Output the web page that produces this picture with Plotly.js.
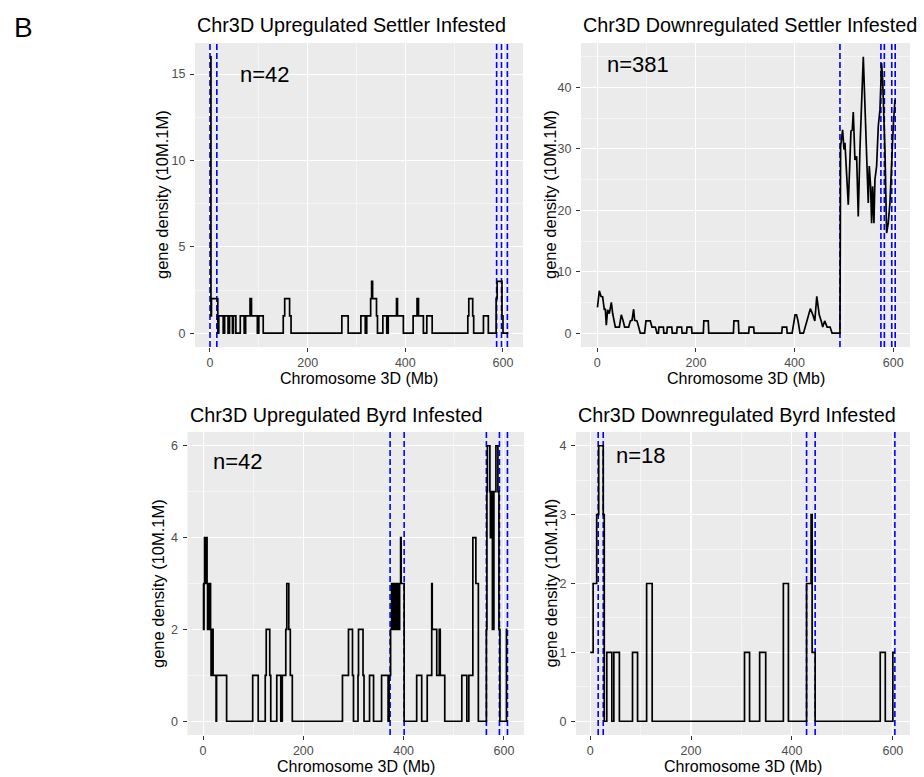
<!DOCTYPE html>
<html>
<head>
<meta charset="utf-8">
<script src="https://cdn.plot.ly/plotly-3.0.1.min.js"></script>
<style>html,body{margin:0;padding:0;background:#fff;}#chart{width:924px;height:777px;}</style>
</head>
<body>
<div id="chart"></div>
<script>
// ---------------- data (Mb position, gene density) ----------------
const titles = [
  "Chr3D Upregulated Settler Infested",
  "Chr3D Downregulated Settler Infested",
  "Chr3D Upregulated Byrd Infested",
  "Chr3D Downregulated Byrd Infested"
];
const counts = ["n=42", "n=381", "n=42", "n=18"];
const countX = [112, 83, 69, 101];
const countY = [15.0, 43.7, 5.65, 3.86];

// Panel 1: Upregulated Settler (step data)
const p1x = [0, 2, 3, 16, 18, 27, 30, 37, 40, 46, 48, 53, 62, 70, 73, 82, 85, 97, 100, 109, 150, 153, 163, 166, 270, 283, 309, 318, 321, 329, 331, 333, 341, 343, 354, 362, 365, 382, 384, 396, 416, 424, 427, 437, 444, 455, 528, 530, 538, 540, 560, 570, 586, 588, 598, 600, 611];
const p1y = [16, 1, 2, 0, 1, 0, 1, 0, 1, 0, 1, 0, 1, 0, 1, 2, 1, 0, 1, 0, 1, 2, 1, 0, 1, 0, 1, 0, 1, 2, 3, 2, 1, 0, 1, 0, 1, 2, 1, 0, 1, 2, 1, 0, 1, 0, 1, 2, 1, 0, 1, 0, 2, 3, 1, 0, 0];
const p1v = [0, 14, 587, 597, 609];

// Panel 2: Downregulated Settler (line data)
const p2x = [0.4, 4.1, 7.5, 10.9, 14.3, 16.3, 18.3, 21, 24.4, 28.5, 31.2, 34.5, 36.6, 44.7, 48.7, 52.1, 55.5, 63.6, 67, 70.4, 73.7, 75.8, 80.5, 83.9, 87.2, 96, 98.7, 107.5, 110.9, 117.7, 121, 124, 125, 134, 135, 141, 142, 151, 152, 161, 162, 171, 172, 181, 182, 191, 192, 215, 216, 225, 226, 276, 277, 286, 287, 307, 308, 317, 318, 374, 375, 384, 385, 395, 401, 404, 407, 411, 418, 425, 432, 437, 441, 445, 450, 454, 457, 461, 466, 472, 476, 492, 493.3, 497.4, 500.1, 502.1, 508.9, 512.2, 514.3, 517, 519, 522.4, 525.8, 529.1, 532.5, 539.3, 546, 549.4, 551.4, 554.1, 556.2, 558.2, 560.9, 562.9, 566.3, 569.7, 573.1, 576.4, 578.5, 583.2, 586.6, 589.9, 593.3, 596.7, 600.1, 603.4];
const p2y = [4.2, 6.9, 6.0, 5.9, 3.8, 4.0, 1.3, 3.8, 3.2, 5.0, 3.2, 2.1, 1.0, 1.0, 3.0, 2.1, 1.0, 1.0, 2.0, 2.1, 3.9, 2.1, 2.0, 1.0, 0, 0, 2, 2, 1, 1, 0, 0, 1, 1, 0, 0, 1, 1, 0, 0, 1, 1, 0, 0, 1, 1, 0, 0, 2, 2, 0, 0, 2, 2, 0, 0, 1, 1, 0, 0, 1, 1, 0, 0, 3, 3, 2, 0, 0, 2, 4, 3, 2, 6, 3, 2, 1, 2, 1, 1, 0, 0, 30.4, 33.1, 29.9, 31.0, 20.9, 28.2, 32.9, 33.1, 36.0, 28.2, 28.8, 19.0, 29.9, 45.0, 27.2, 21.2, 27.2, 23.9, 17.9, 23.9, 17.9, 25.0, 27.2, 33.7, 36.4, 44.0, 41.3, 29.9, 16.3, 17.9, 21.2, 28.2, 33.7, 38.0];
const p2v = [492, 575, 582, 597, 604];

// Panel 3: Upregulated Byrd (step data)
const p3x = [0, 1, 2, 3, 4, 5, 6, 7, 8, 9, 10, 11, 12, 13, 14, 15, 16, 17, 18, 19, 20, 26, 27, 47, 99, 110, 124, 126, 133, 135, 147, 155, 158, 165, 167, 171, 174, 178, 278, 290, 298, 300, 309, 310, 319, 321, 332, 340, 356, 369, 371, 374, 376, 377, 379, 380, 382, 383, 385, 386, 388, 390, 392, 394, 395, 401, 426, 436, 447, 456, 457, 466, 471, 473, 482, 516, 526, 530, 538, 544, 549, 565, 566, 567, 572, 573, 575, 577, 578, 579, 580, 584, 588, 590, 592, 605, 607];
const p3y = [3, 2, 3, 4, 3, 4, 3, 4, 3, 2, 3, 2, 3, 2, 3, 2, 1, 2, 1, 2, 1, 0, 1, 0, 1, 0, 1, 2, 1, 0, 1, 0, 1, 2, 3, 2, 1, 0, 1, 2, 1, 0, 1, 2, 1, 0, 1, 0, 1, 0, 1, 2, 3, 2, 3, 2, 3, 2, 3, 2, 3, 2, 3, 4, 3, 0, 1, 0, 1, 3, 2, 1, 2, 1, 0, 1, 0, 1, 4, 3, 0, 2, 5, 6, 5, 4, 5, 2, 5, 2, 5, 6, 5, 2, 0, 2, 2];
const p3v = [373, 401, 565, 591, 607];

// Panel 4: Downregulated Byrd (step data)
const p4x = [0, 6, 13, 17, 26, 28, 33, 43, 47, 58, 84, 94, 112, 123, 306, 316, 336, 348, 383, 393, 429, 438, 440, 446, 575, 585, 600, 604];
const p4y = [1, 2, 3, 4, 3, 0, 1, 0, 1, 0, 1, 0, 2, 0, 1, 0, 1, 0, 2, 0, 2, 3, 1, 0, 1, 0, 1, 1];
const p4v = [16, 26, 429, 446, 604];

// ---------------- layout helpers ----------------
const W = 924, H = 777;
const FONT = "Liberation Sans, Arial, Helvetica, sans-serif";
const boxes = [
  {l: 195, r: 523, t: 43, b: 347, xr: [-30.7, 641], yr: [-0.8, 16.8], dy: 5, my: 2.5, ytx: 162},
  {l: 581, r: 910, t: 43, b: 347, xr: [-33, 634], yr: [-2.25, 47.25], dy: 10, my: 5, ytx: 550},
  {l: 187.5, r: 524, t: 432, b: 735, xr: [-31, 640], yr: [-0.3, 6.3], dy: 2, my: 1, ytx: 157.5},
  {l: 576, r: 910, t: 432, b: 735, xr: [-28, 634], yr: [-0.2, 4.2], dy: 1, my: 0.5, ytx: 550}
];
const titleY = [24.7, 24.7, 414.7, 414.7];

const series = [
  {x: p1x, y: p1y, shape: 'hv', v: p1v},
  {x: p2x, y: p2y, shape: 'linear', v: p2v},
  {x: p3x, y: p3y, shape: 'hv', v: p3v},
  {x: p4x, y: p4y, shape: 'hv', v: p4v}
];

const traces = [];
const annotations = [];
const layout = {
  width: W, height: H,
  margin: {l: 0, r: 0, t: 0, b: 0},
  paper_bgcolor: '#FFFFFF',
  plot_bgcolor: '#EBEBEB',
  showlegend: false,
  font: {family: FONT, color: '#000000'}
};

function axisBase() {
  return {
    showgrid: true, gridcolor: '#FFFFFF', gridwidth: 1.1,
    zeroline: false, showline: false,
    ticks: 'outside', ticklen: 4, tickwidth: 1, tickcolor: '#333333',
    tickfont: {family: FONT, size: 12.5, color: '#4D4D4D'},
    fixedrange: true
  };
}

series.forEach((s, i) => {
  const k = i === 0 ? '' : String(i + 1);
  const bx = boxes[i];

  // dashed blue vertical reference lines (spanning the full panel height)
  const vx = [], vy = [];
  s.v.forEach(v => { vx.push(v, v, null); vy.push(bx.yr[0], bx.yr[1], null); });
  traces.push({
    type: 'scatter', mode: 'lines', x: vx, y: vy,
    xaxis: 'x' + k, yaxis: 'y' + k, connectgaps: false,
    line: {color: '#0000FF', width: 1.6, dash: '6px,3px'},
    hoverinfo: 'skip'
  });

  // density line
  traces.push({
    type: 'scatter', mode: 'lines',
    x: s.x, y: s.y,
    xaxis: 'x' + k, yaxis: 'y' + k,
    line: {color: '#000000', width: 1.7, shape: s.shape},
    hoverinfo: 'skip'
  });

  layout['xaxis' + k] = Object.assign(axisBase(), {
    domain: [bx.l / W, bx.r / W], range: bx.xr, anchor: 'y' + k,
    tick0: 0, dtick: 200,
    minor: {tick0: 0, dtick: 100, showgrid: true, gridcolor: '#FFFFFF', gridwidth: 0.5, ticks: ''}
  });
  layout['yaxis' + k] = Object.assign(axisBase(), {
    domain: [1 - bx.b / H, 1 - bx.t / H], range: bx.yr, anchor: 'x' + k,
    tick0: 0, dtick: bx.dy, ticklabelstandoff: 2,
    minor: {tick0: 0, dtick: bx.my, showgrid: true, gridcolor: '#FFFFFF', gridwidth: 0.5, ticks: ''}
  });

  // panel title (left aligned to panel)
  annotations.push({
    text: titles[i], xref: 'paper', yref: 'paper',
    x: bx.l / W, y: 1 - titleY[i] / H, xanchor: 'left', yanchor: 'middle',
    showarrow: false, font: {family: FONT, size: 19.8, color: '#000000'}
  });
  // x axis title
  annotations.push({
    text: 'Chromosome 3D (Mb)', xref: 'paper', yref: 'paper',
    x: (bx.l + bx.r) / 2 / W, y: 1 - (bx.b + 31) / H, xanchor: 'center', yanchor: 'middle',
    showarrow: false, font: {family: FONT, size: 16, color: '#000000'}
  });
  // y axis title
  annotations.push({
    text: 'gene density (10M.1M)', xref: 'paper', yref: 'paper',
    x: bx.ytx / W, y: 1 - (bx.t + bx.b) / 2 / H, xanchor: 'center', yanchor: 'middle',
    textangle: -90,
    showarrow: false, font: {family: FONT, size: 16.5, color: '#000000'}
  });
  // n= label
  annotations.push({
    text: counts[i], xref: 'x' + k, yref: 'y' + k,
    x: countX[i], y: countY[i], xanchor: 'center', yanchor: 'middle',
    showarrow: false, font: {family: FONT, size: 22, color: '#000000'}
  });
});

annotations.push({
  text: 'B', xref: 'paper', yref: 'paper',
  x: 12 / W, y: 1 - 27 / H, xanchor: 'left', yanchor: 'middle',
  showarrow: false, font: {family: FONT, size: 28, color: '#000000'}
});

layout.annotations = annotations;

Plotly.newPlot('chart', traces, layout, {displayModeBar: false, staticPlot: true});
</script>
</body>
</html>
